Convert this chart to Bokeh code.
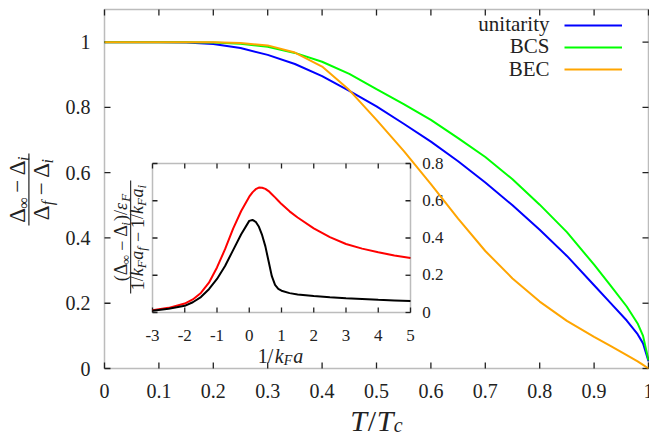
import math
from bokeh.plotting import figure
from bokeh.models import Label, Legend, LegendItem, BoxAnnotation, Range1d
from bokeh.core.properties import value
from bokeh.embed import file_html
from bokeh.resources import INLINE

# ---------------- data ----------------
T = [0, 0.05, 0.1, 0.15, 0.2, 0.25, 0.3, 0.35, 0.4, 0.45, 0.5, 0.55, 0.6, 0.65,
     0.7, 0.75, 0.8, 0.85, 0.9, 0.93, 0.96, 0.98, 0.99, 1.0]
unitarity = [1, 1, 1, 0.999, 0.994, 0.982, 0.961, 0.933, 0.896, 0.851, 0.803, 0.75,
             0.695, 0.635, 0.57, 0.5, 0.425, 0.345, 0.255, 0.201, 0.147, 0.105, 0.077, 0.022]
bcs = [1, 1, 1, 1, 0.999, 0.995, 0.986, 0.967, 0.94, 0.903, 0.856, 0.81, 0.762, 0.706,
       0.648, 0.58, 0.502, 0.418, 0.318, 0.255, 0.19, 0.138, 0.1, 0.025]
bec = [1, 1, 1, 1, 1, 0.997, 0.99, 0.968, 0.925, 0.853, 0.762, 0.667, 0.565, 0.459,
       0.36, 0.276, 0.205, 0.146, 0.097, 0.069, 0.041, 0.022, 0.011, 0.0]
series_names = ["unitarity", "BCS", "BEC"]

inv_kfa = [-3, -2.5, -2, -1.75, -1.5, -1.25, -1, -0.75, -0.5, -0.25, 0, 0.1, 0.2, 0.3,
           0.4, 0.5, 0.6, 0.7, 0.8, 0.9, 1.0, 1.25, 1.5, 2, 2.5, 3, 3.5, 4, 4.5, 5]
inset_black = [0.009, 0.02, 0.036, 0.055, 0.083, 0.125, 0.18, 0.25, 0.335, 0.42, 0.492,
               0.497, 0.487, 0.46, 0.415, 0.355, 0.275, 0.195, 0.148, 0.127, 0.117, 0.104,
               0.097, 0.088, 0.082, 0.077, 0.073, 0.068, 0.065, 0.062]
inset_red = [0.012, 0.025, 0.048, 0.07, 0.105, 0.16, 0.242, 0.34, 0.45, 0.545, 0.622,
             0.645, 0.662, 0.671, 0.67, 0.664, 0.652, 0.635, 0.618, 0.6, 0.582, 0.543,
             0.51, 0.452, 0.405, 0.368, 0.343, 0.323, 0.306, 0.293]

x_ticks = [0, 0.1, 0.2, 0.3, 0.4, 0.5, 0.6, 0.7, 0.8, 0.9, 1.0]
x_tick_labels = ["0", "0.1", "0.2", "0.3", "0.4", "0.5", "0.6", "0.7", "0.8", "0.9", "1"]
y_ticks = [0, 0.2, 0.4, 0.6, 0.8, 1.0]
y_tick_labels = ["0", "0.2", "0.4", "0.6", "0.8", "1"]
ix_ticks = [-3, -2, -1, 0, 1, 2, 3, 4, 5]
ix_tick_labels = ["-3", "-2", "-1", "0", "1", "2", "3", "4", "5"]
iy_ticks = [0, 0.2, 0.4, 0.6, 0.8]
iy_tick_labels = ["0", "0.2", "0.4", "0.6", "0.8"]

# axis extents
X_MIN, X_MAX, Y_MIN, Y_MAX = 0.0, 1.0, 0.0, 1.1
IX_MIN, IX_MAX, IY_MIN, IY_MAX = -3.0, 5.0, 0.0, 0.8

# ---------------- layout (page pixels) ----------------
W, H = 649, 436
MAIN_BOX = (104, 9, 648, 368)      # left, top, right, bottom
INSET_BOX = (152, 163, 410, 312)
BL_FIX = 0.34                      # baseline correction, fraction of font size

FONT = "'Liberation Serif', 'DejaVu Serif', serif"
TXT = "#222222"
AX = "#222222"
COLORS = ["#0000ff", "#00ff00", "#ffa500"]


def mk_conv(box, x0, x1, y0, y1):
    l, t, r, b = box

    def cx(px):
        return x0 + (px - l) * (x1 - x0) / (r - l)

    def cy(py):
        return y0 + (b - py) * (y1 - y0) / (b - t)
    return cx, cy


mx, my = mk_conv(MAIN_BOX, X_MIN, X_MAX, Y_MIN, Y_MAX)
ix, iy = mk_conv(INSET_BOX, IX_MIN, IX_MAX, IY_MIN, IY_MAX)

p = figure(width=W, height=H, output_backend="svg", toolbar_location=None,
           x_range=Range1d(mx(0), mx(W)), y_range=Range1d(my(H), my(0)),
           x_axis_location=None, y_axis_location=None, min_border=0)
p.extra_x_ranges = {"ix": Range1d(ix(0), ix(W))}
p.extra_y_ranges = {"iy": Range1d(iy(H), iy(0))}
p.grid.visible = False
p.outline_line_color = None
p.background_fill_color = "white"
p.border_fill_color = "white"

IN = dict(x_range_name="ix", y_range_name="iy")

# ---------------- frames and ticks ----------------
p.add_layout(BoxAnnotation(left=X_MIN, right=X_MAX, bottom=Y_MIN, top=Y_MAX, fill_alpha=0,
                           line_color=AX, line_width=1.5))
p.add_layout(BoxAnnotation(left=IX_MIN, right=IX_MAX, bottom=IY_MIN, top=IY_MAX, fill_alpha=0,
                           line_color=AX, line_width=1.5, **IN))

TL = 6
dxm = TL * (X_MAX - X_MIN) / (MAIN_BOX[2] - MAIN_BOX[0])
dym = TL * (Y_MAX - Y_MIN) / (MAIN_BOX[3] - MAIN_BOX[1])
n, m = len(x_ticks), len(y_ticks)
p.segment(x0=x_ticks, y0=[Y_MIN] * n, x1=x_ticks, y1=[Y_MIN + dym] * n, line_color=AX, line_width=1.3)
p.segment(x0=x_ticks, y0=[Y_MAX] * n, x1=x_ticks, y1=[Y_MAX - dym] * n, line_color=AX, line_width=1.3)
p.segment(x0=[X_MIN] * m, y0=y_ticks, x1=[X_MIN + dxm] * m, y1=y_ticks, line_color=AX, line_width=1.3)
p.segment(x0=[X_MAX] * m, y0=y_ticks, x1=[X_MAX - dxm] * m, y1=y_ticks, line_color=AX, line_width=1.3)

TLI = 5
dxi = TLI * (IX_MAX - IX_MIN) / (INSET_BOX[2] - INSET_BOX[0])
dyi = TLI * (IY_MAX - IY_MIN) / (INSET_BOX[3] - INSET_BOX[1])
k, j = len(ix_ticks), len(iy_ticks)
p.segment(x0=ix_ticks, y0=[IY_MIN] * k, x1=ix_ticks, y1=[IY_MIN + dyi] * k, line_color=AX, line_width=1.3, **IN)
p.segment(x0=ix_ticks, y0=[IY_MAX] * k, x1=ix_ticks, y1=[IY_MAX - dyi] * k, line_color=AX, line_width=1.3, **IN)
p.segment(x0=[IX_MIN] * j, y0=iy_ticks, x1=[IX_MIN + dxi] * j, y1=iy_ticks, line_color=AX, line_width=1.3, **IN)
p.segment(x0=[IX_MAX] * j, y0=iy_ticks, x1=[IX_MAX - dxi] * j, y1=iy_ticks, line_color=AX, line_width=1.3, **IN)

# ---------------- tick labels ----------------
TXT_KW = dict(text_font=value(FONT), text_color=TXT, text_baseline="alphabetic")
p.text(x=x_ticks, y=[my(397 - BL_FIX * 20)] * n, text=x_tick_labels, text_align="center",
       text_font_size="20px", **TXT_KW)
y_lab_shift = my(0) - my(6.8 - BL_FIX * 20)
p.text(x=[mx(90)] * m, y=[t - y_lab_shift for t in y_ticks], text=y_tick_labels,
       text_align="right", text_font_size="20px", **TXT_KW)
p.text(x=ix_ticks, y=[iy(341 - BL_FIX * 17)] * k, text=ix_tick_labels, text_align="center",
       text_font_size="17px", **TXT_KW, **IN)
iy_lab_shift = iy(0) - iy(5.5 - BL_FIX * 17)
p.text(x=[ix(421.7)] * j, y=[t - iy_lab_shift for t in iy_ticks], text=iy_tick_labels,
       text_align="left", text_font_size="17px", **TXT_KW, **IN)

# ---------------- curves ----------------
renderers = []
for ys, c in zip([unitarity, bcs, bec], COLORS):
    renderers.append(p.line(T, ys, line_color=c, line_width=2))
p.line(inv_kfa, inset_red, line_color="#ff0000", line_width=2, **IN)
p.line(inv_kfa, inset_black, line_color="#000000", line_width=2, **IN)

legend = Legend(items=[LegendItem(label=" ", renderers=[r]) for r in renderers],
                location="top_right", glyph_width=58, glyph_height=22, label_height=22,
                label_width=8, label_standoff=5, spacing=0, padding=0, margin=14,
                border_line_alpha=0, background_fill_alpha=0,
                label_text_font_size="10px")
p.add_layout(legend)


# ---------------- composed labels ----------------
def put(text, px, py, size, italic=False, angle=0.0, align="left"):
    p.add_layout(Label(x=mx(px), y=my(py), text=text, angle=angle, text_font=FONT,
                       text_font_size=f"{size}px",
                       text_font_style="italic" if italic else "normal",
                       text_align=align, text_baseline="alphabetic", text_color=TXT))


def run_h(parts, cx, base):
    L = sum(g + w for _, _, _, _, g, w in parts)
    x = cx - L / 2
    for text, size, it, shift, gap, w in parts:
        x += gap
        put(text, x, base + shift - BL_FIX * size, size, it)
        x += w


def run_v(parts, base, cy):
    L = sum(g + w for _, _, _, _, g, w in parts)
    y = cy + L / 2
    for text, size, it, shift, gap, w in parts:
        y -= gap
        put(text, base + shift - BL_FIX * size, y, size, it, angle=math.pi / 2)
        y -= w


def bar(x0, x1, y0, y1):
    p.add_layout(BoxAnnotation(left=mx(x0), right=mx(x1), bottom=my(y1), top=my(y0),
                               fill_color=TXT, fill_alpha=1, line_color=None))


for name, base in zip(series_names, [30.7, 53.0, 75.5]):
    put(name, 549, base - BL_FIX * 21, 21, align="right")

run_h([("T", 30, True, 0, 0, 17.5), ("/", 30, False, 0, 0, 9), ("T", 30, True, 0, 0, 17),
       ("c", 20, True, 1.5, 0, 9)], 376, 430)

num_main = [("Δ", 23, False, 0, 0, 14.1), ("∞", 16, False, 3, 0, 11.4),
            ("−", 23, False, 0, 4.5, 13), ("Δ", 23, False, 0, 4.5, 14.1), ("i", 16, True, 3, 0, 4.8)]
den_main = [("Δ", 23, False, 0, 0, 14.1), ("f", 16, True, 3, 1, 5.5),
            ("−", 23, False, 0, 4.5, 13), ("Δ", 23, False, 0, 4.5, 14.1), ("i", 16, True, 3, 0, 4.8)]
run_v(num_main, 25, 189)
run_v(den_main, 49, 189)
bar(27.8, 29.0, 153, 225)

num_in = [("(", 18, False, 0, 0, 6), ("Δ", 18, False, 0, 0, 11), ("∞", 13, False, 2.5, 0, 9.3),
          ("−", 18, False, 0, 4, 10.2), ("Δ", 18, False, 0, 4, 11), ("i", 13, True, 2.5, 0, 3.6),
          (")", 18, False, 0, 1, 6), ("/", 18, False, 0, 0, 5), ("ε", 18, True, 0, 0, 7.7),
          ("F", 13, True, 2.5, 0.5, 8)]
den_in = [("1", 18, False, 0, 0, 9), ("/", 18, False, 0, 0, 5), ("k", 18, True, 0, 0, 8),
          ("F", 13, True, 2.5, 0, 8), ("a", 18, True, 0, 0.5, 9), ("f", 13, True, 2.5, 0, 4.6),
          ("−", 18, False, 0, 4, 10.2), ("1", 18, False, 0, 4, 9), ("/", 18, False, 0, 0, 5),
          ("k", 18, True, 0, 0, 8), ("F", 13, True, 2.5, 0, 8), ("a", 18, True, 0, 0.5, 9),
          ("i", 13, True, 2.5, 0, 3.6)]
run_v(num_in, 127, 237)
run_v(den_in, 143, 237)
bar(129.6, 130.7, 180, 293)

run_h([("1/", 20, False, 0, 0, 15.6), ("k", 20, True, 0, 1.5, 8.9),
       ("F", 14, True, 3, 0, 8.6), ("a", 20, True, 0, 1, 10)], 280, 362)

open("out.html", "w").write(file_html(p, INLINE))
